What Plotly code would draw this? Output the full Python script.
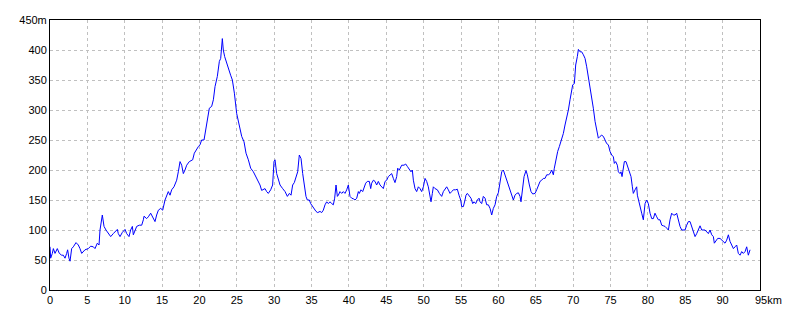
import plotly.graph_objects as go

distance_km = [
    0.00, 0.09, 0.31, 0.45, 0.67, 0.98, 1.25, 1.56, 1.78, 2.01, 2.23, 2.36, 2.54, 2.68, 2.90,
    3.12, 3.48, 3.79, 4.01, 4.24, 4.68, 5.13, 5.44, 5.80, 6.02, 6.33, 6.56, 6.69, 7.00, 7.23,
    7.49, 7.81, 8.12, 8.47, 8.70, 9.01, 9.14, 9.37, 9.68, 10.04, 10.26, 10.57, 10.79, 11.02,
    11.15, 11.37, 11.60, 11.95, 12.27, 12.49, 12.58, 12.93, 13.16, 13.47, 13.74, 14.05, 14.27,
    14.50, 14.81, 15.08, 15.39, 15.61, 15.83, 16.06, 16.28, 16.59, 16.95, 17.17, 17.40, 17.62,
    17.84, 18.06, 18.29, 18.64, 19.09, 19.31, 19.63, 19.85, 20.07, 20.29, 20.61, 20.87, 21.05,
    21.32, 21.63, 21.86, 22.08, 22.39, 22.66, 22.84, 23.06, 23.19, 23.37, 23.64, 23.86, 24.17,
    24.40, 24.67, 24.98, 25.33, 25.65, 25.96, 26.23, 26.54, 26.85, 27.21, 27.43, 27.65, 27.88,
    28.10, 28.32, 28.55, 28.77, 28.99, 29.21,
    29.53, 29.79, 29.97, 30.11, 30.33, 30.55, 30.78, 31.13, 31.45, 31.76, 32.03, 32.25, 32.47,
    32.69, 32.92, 33.14, 33.36, 33.59, 33.81, 34.03, 34.25, 34.43, 34.70, 34.88, 35.15, 35.37,
    35.59, 35.82, 36.13, 36.35, 36.57, 36.80, 37.02, 37.24, 37.47, 37.69, 37.91, 38.09, 38.27,
    38.45, 38.58, 38.80, 39.03, 39.25, 39.47, 39.70, 39.92, 40.14, 40.37, 40.59, 40.81, 41.04,
    41.26, 41.39, 41.61, 41.84, 42.02, 42.24, 42.46, 42.73, 42.91, 43.04, 43.27, 43.49, 43.71,
    43.93, 44.16, 44.38, 44.60, 44.83, 45.05, 45.27, 45.50, 45.72, 45.94, 46.16, 46.39, 46.52,
    46.74, 47.06, 47.37, 47.59, 47.81, 48.08, 48.30, 48.48, 48.62, 48.84, 49.06, 49.29, 49.51,
    49.73, 49.96, 50.18, 50.40, 50.62, 50.85, 50.98, 51.16, 51.29, 51.52, 51.83, 52.10, 52.41,
    52.63, 52.85, 53.08, 53.30, 53.52, 53.75, 53.97, 54.28, 54.50, 54.73, 54.95, 55.09, 55.31,
    55.53, 55.66, 55.84, 56.11, 56.33, 56.56, 56.74, 56.96, 57.18, 57.41, 57.54, 57.76, 57.98,
    58.21, 58.43, 58.65, 58.88, 59.10, 59.32, 59.55, 59.77, 59.99, 60.21, 60.44, 60.66, 60.88,
    61.11, 61.33, 61.55, 61.78, 62.00, 62.22, 62.44, 62.67, 62.89,
    63.02, 63.25, 63.43, 63.69, 63.87, 64.14, 64.36, 64.59, 64.90, 65.12, 65.34, 65.57, 65.79,
    66.01, 66.24, 66.46, 66.68, 66.90, 67.13, 67.35, 67.48, 67.71, 67.93, 68.15, 68.47, 68.69,
    68.91, 69.14, 69.36, 69.58, 69.80, 69.94, 70.16, 70.34, 70.56, 70.70, 70.92, 71.14, 71.37,
    71.59, 71.81, 72.04, 72.26, 72.48, 72.70, 72.93, 73.15, 73.37, 73.60, 73.82, 74.04, 74.26,
    74.49, 74.71, 74.93, 75.16, 75.38, 75.51, 75.69, 75.91, 76.05, 76.27, 76.40, 76.54, 76.72,
    76.85, 77.07, 77.25, 77.52, 77.74, 77.92, 78.05, 78.28, 78.50, 78.59, 78.72, 78.95, 79.17,
    79.39, 79.62, 79.84, 80.06, 80.29, 80.51, 80.73, 80.95, 81.18, 81.40, 81.62, 81.85, 82.07,
    82.29, 82.52, 82.74, 82.96, 83.18, 83.41, 83.63, 83.85, 84.08, 84.30, 84.52, 84.75, 84.97,
    85.19, 85.41, 85.64, 85.86, 86.08, 86.31, 86.53, 86.75, 86.98, 87.20, 87.42, 87.64, 88.09,
    88.31, 88.54, 88.76, 88.89, 89.12, 89.34, 89.65, 89.88, 90.10, 90.32, 90.54, 90.77, 90.99,
    91.21, 91.44, 91.66, 91.88, 92.10, 92.33, 92.55, 92.77, 93.00, 93.22, 93.44, 93.67,
]

elevation_m = [
    72, 53, 61, 69, 61, 69, 61, 58, 58, 53, 61, 67, 53, 48, 69,
    72, 79, 75, 69, 61, 67, 69, 73, 72, 69, 78, 75, 100, 125, 106,
    100, 94, 89, 94, 97, 101, 94, 89, 96, 101, 94, 89, 100, 106,
    92, 100, 106, 108, 108, 117, 123, 119, 122, 128, 122, 114, 125,
    133, 136, 133, 150, 156, 164, 158, 167, 172, 183, 197, 214, 208,
    194, 200, 208, 214, 217, 228, 236, 239, 242, 250, 250, 269, 283,
    303, 306, 317, 339, 356, 381, 386, 419, 400, 389, 378, 367, 358,
    350, 328, 294, 272, 256, 247, 228, 217, 203, 197, 192, 186, 181,
    175, 166, 167, 169, 164, 161,
    167, 175, 214, 217, 194, 186, 175, 169, 164, 156, 161, 158, 175,
    179, 189, 197, 225, 219, 194, 172, 156, 150, 150, 144, 139, 136,
    131, 129, 131, 129, 133, 142, 147, 144, 147, 144, 142, 153, 175,
    156, 158, 164, 161, 164, 161, 167, 175, 156, 153, 152, 150, 153,
    164, 161, 167, 164, 172, 178, 181, 181, 169, 178, 183, 181, 175,
    181, 175, 172, 169, 181, 183, 189, 192, 194, 186, 179, 189, 203,
    200, 208, 208, 210, 206, 200, 197, 200, 183, 169, 164, 172, 169,
    164, 172, 186, 181, 172, 150, 147, 161, 172, 169, 167, 161, 156,
    164, 169, 172, 167, 161, 164, 167, 167, 168, 158, 150, 139, 139,
    150, 158, 161, 156, 153, 144, 147, 144, 150, 153, 147, 144, 156,
    153, 142, 142, 136, 125, 136, 142, 156, 162, 183, 197, 200, 192,
    183, 175, 164, 156, 150, 158, 161, 162, 156,
    147, 175, 189, 199, 192, 175, 164, 160, 161, 167, 175, 181, 183,
    186, 186, 192, 192, 194, 200, 192, 203, 219, 231, 239, 250, 261,
    275, 286, 300, 317, 333, 342, 344, 375, 389, 401, 397, 397, 392,
    386, 372, 356, 339, 322, 303, 281, 267, 253, 256, 258, 256, 250,
    244, 242, 231, 225, 222, 211, 214, 208, 197, 194, 197, 189, 206,
    214, 214, 208, 197, 189, 172, 161, 167, 172, 158, 150, 139, 128,
    117, 144, 150, 144, 128, 119, 119, 128, 122, 117, 117, 108, 107,
    106, 103, 100, 117, 128, 125, 125, 128, 114, 106, 100, 100, 100,
    108, 114, 114, 106, 97, 89, 94, 100, 107, 100, 100, 100, 94,
    100, 92, 89, 78, 83, 86, 86, 83, 81, 78, 83, 92, 81,
    75, 69, 72, 75, 61, 58, 64, 61, 64, 72, 58, 67,
]

x_tick_vals = [0, 5, 10, 15, 20, 25, 30, 35, 40, 45, 50, 55, 60, 65, 70, 75, 80, 85, 90, 95]
x_tick_text = ["0", "5", "10", "15", "20", "25", "30", "35", "40", "45", "50", "55", "60",
               "65", "70", "75", "80", "85", "90", ""]
x_end_label = "95km"
y_tick_vals = [0, 50, 100, 150, 200, 250, 300, 350, 400, 450]
y_tick_text = ["0", "50", "100", "150", "200", "250", "300", "350", "400", "450m"]

font_family = "Liberation Sans"

fig = go.Figure()
fig.add_trace(go.Scatter(
    x=distance_km, y=elevation_m, mode="lines",
    line=dict(color="#0000FF", width=1),
    hoverinfo="skip", showlegend=False,
))

fig.add_annotation(
    x=95, y=0, xref="x", yref="y", text=x_end_label, showarrow=False,
    xanchor="left", yanchor="top", yshift=-2, xshift=-7,
    font=dict(family=font_family, size=11, color="#000000"),
)

# page body has an 8px margin, so shift the figure's margins to place the plot box
fig.update_layout(
    width=800, height=320,
    margin=dict(l=42, r=48, t=12, b=38),
    paper_bgcolor="white", plot_bgcolor="white",
    font=dict(family=font_family, size=11, color="#000000"),
)
fig.update_xaxes(
    range=[0, 95], tickvals=x_tick_vals, ticktext=x_tick_text,
    showline=True, linecolor="#000000", linewidth=1, mirror=True,
    showgrid=True, gridcolor="#C0C0C0", gridwidth=1, griddash="3px,3px",
    zeroline=False, ticks="", ticklen=0, automargin=False,
)
fig.update_yaxes(
    range=[0, 450], tickvals=y_tick_vals, ticktext=y_tick_text,
    showline=True, linecolor="#000000", linewidth=1, mirror=True,
    showgrid=True, gridcolor="#C0C0C0", gridwidth=1, griddash="3px,3px",
    zeroline=False, ticks="", ticklen=0, automargin=False,
)

fig.write_html("out.html")
